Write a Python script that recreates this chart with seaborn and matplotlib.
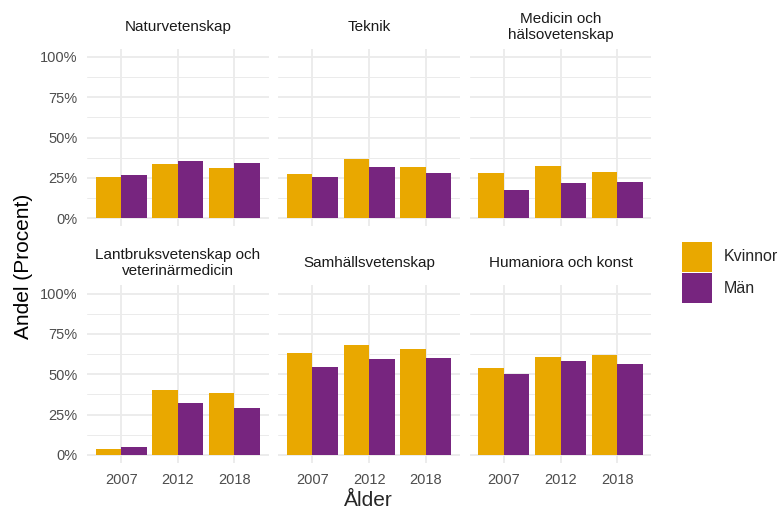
import seaborn as sns
import matplotlib.pyplot as plt
import matplotlib.patches as mpatches
import matplotlib.ticker as mticker
import pandas as pd

# Values (share in percent)
fields = ["Naturvetenskap", "Teknik", "Medicin och\nhälsovetenskap",
          "Lantbruksvetenskap och\nveterinärmedicin", "Samhällsvetenskap",
          "Humaniora och konst"]
years = ["2007", "2012", "2018"]
kvinnor = [[25.5, 33.5, 31.0],
           [27.3, 36.6, 31.7],
           [28.1, 32.3, 29.0],
           [3.9, 40.4, 38.5],
           [63.0, 68.0, 65.4],
           [53.8, 60.4, 62.0]]
man = [[27.0, 35.2, 34.3],
       [25.7, 32.0, 28.1],
       [17.6, 21.9, 22.8],
       [4.9, 32.3, 29.0],
       [54.6, 59.4, 60.0],
       [50.3, 58.0, 56.5]]
genders = ["Kvinnor", "Män"]
colors = {"Kvinnor": "#E9A800", "Män": "#77257F"}

rows = []
for i, f in enumerate(fields):
    for j, y in enumerate(years):
        rows.append((f, y, "Kvinnor", kvinnor[i][j] / 100))
        rows.append((f, y, "Män", man[i][j] / 100))
df = pd.DataFrame(rows, columns=["field", "year", "gender", "share"])

sns.set_style("white")
plt.rcParams["font.family"] = ["Liberation Sans", "DejaVu Sans"]

fig, axes = plt.subplots(2, 3, figsize=(7.78, 5.09), dpi=100, sharey=True)
fig.subplots_adjust(left=0.112, right=0.837, top=0.904, bottom=0.0904,
                    wspace=0.055, hspace=0.333)

grid_col = "#EBEBEB"
for ax, f in zip(axes.flat, fields):
    sub = df[df["field"] == f]
    sns.barplot(data=sub, x="year", y="share", hue="gender", order=years,
                hue_order=genders, palette=colors, width=0.9, gap=0,
                saturation=1, errorbar=None, ax=ax, legend=False,
                edgecolor="none", zorder=3)
    ax.set_xlim(-0.6, 2.6)
    ax.set_ylim(-0.05, 1.05)
    ax.yaxis.set_major_locator(mticker.FixedLocator([0, 0.25, 0.5, 0.75, 1.0]))
    ax.yaxis.set_minor_locator(mticker.FixedLocator([0.125, 0.375, 0.625, 0.875]))
    ax.yaxis.set_major_formatter(mticker.FuncFormatter(lambda v, p: f"{v*100:.0f}%"))
    ax.grid(True, which="major", color=grid_col, lw=1.3, zorder=0)
    ax.grid(True, which="minor", axis="y", color=grid_col, lw=0.7, zorder=0)
    ax.set_axisbelow(True)
    for s in ax.spines.values():
        s.set_visible(False)
    ax.set_xlabel("")
    ax.set_ylabel("")
    ax.tick_params(which="both", length=0, labelsize=10.5, labelcolor="#4D4D4D", pad=7)
    ax.text(0.5, 1.125, f, transform=ax.transAxes, ha="center", va="center",
            fontsize=11, color="#1A1A1A", linespacing=1.15)

for ax in axes[0]:
    ax.tick_params(labelbottom=False)

fig.text(0.0296, 0.477, "Andel (Procent)", rotation=90, ha="center", va="center",
         fontsize=15, color="#000000")
fig.text(0.474, 0.006, "Ålder", ha="center", va="baseline", fontsize=15)

# legend keys: ~30x30 px squares
handles = [mpatches.Patch(facecolor=colors[g], edgecolor="none", label=g)
           for g in genders]
fig.legend(handles=handles, loc="upper left", bbox_to_anchor=(0.869, 0.538),
           frameon=False, fontsize=11.5, handlelength=1.875, handleheight=2.51,
           handletextpad=0.69, labelspacing=0.12, borderaxespad=0)

fig.savefig("out.png", dpi=100)
